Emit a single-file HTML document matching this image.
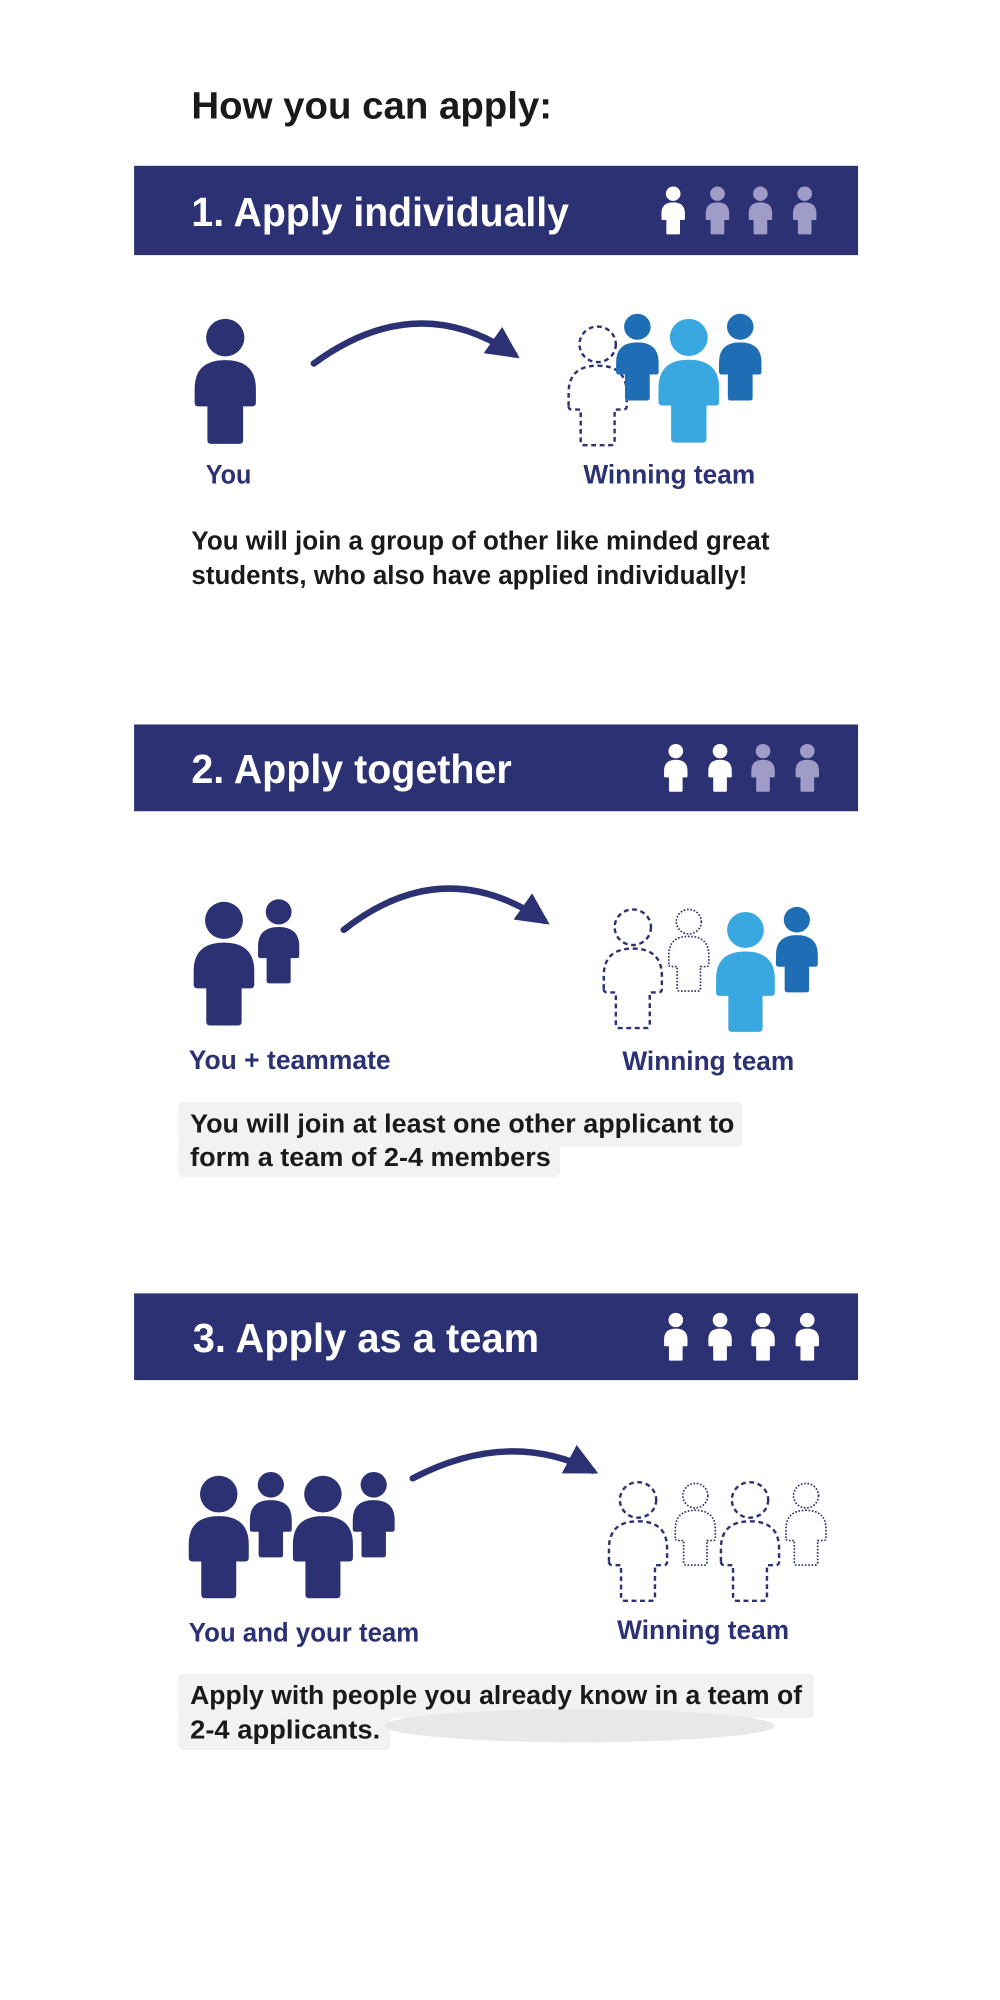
<!DOCTYPE html>
<html><head><meta charset="utf-8"><style>
html,body{margin:0;padding:0;background:#fff;}
svg{display:block;}
text{font-family:"Liberation Sans",sans-serif;font-weight:bold;}
</style></head><body>
<svg width="1000" height="2000" viewBox="0 0 768 1568" preserveAspectRatio="none" xmlns="http://www.w3.org/2000/svg">
<defs>
<symbol id="p" viewBox="0 0 48 100" overflow="visible">
<circle cx="24" cy="15" r="15"/>
<path d="M0,67 L0,56 Q0,33 24,33 Q48,33 48,56 L48,67 Q48,70 45,70 L38,70 L38,97 Q38,100 35,100 L13,100 Q10,100 10,97 L10,70 L3,70 Q0,70 0,67 Z"/>
</symbol>
<marker id="ah" viewBox="0 0 10 10" refX="8" refY="5" markerWidth="5" markerHeight="5" orient="auto"><path d="M0,0 L10,5 L0,10 Z" fill="#2b3173"/></marker>
</defs>
<rect width="768" height="1568" fill="#fff"/>
<text x="147" y="93" font-size="30" fill="#1a1a1a" textLength="277" lengthAdjust="spacingAndGlyphs">How you can apply:</text>

<!-- Section 1 -->
<rect x="103" y="130" width="556" height="70" fill="#2b3173"/>
<text x="147" y="177" font-size="32" fill="#fff" textLength="290" lengthAdjust="spacingAndGlyphs">1. Apply individually</text>
<use href="#p" x="508" y="146" width="18" height="38" fill="#fff"/>
<use href="#p" x="542" y="146" width="18" height="38" fill="#a09cc8"/>
<use href="#p" x="575" y="146" width="18" height="38" fill="#a09cc8"/>
<use href="#p" x="609" y="146" width="18" height="38" fill="#a09cc8"/>

<use href="#p" x="149" y="250" width="48" height="98" fill="#2b3173"/>
<path d="M241,285 Q320,226 395,278" stroke="#2b3173" stroke-width="5" fill="none" stroke-linecap="round" marker-end="url(#ah)"/>
<use href="#p" x="434" y="256" width="50" height="93" fill="none" stroke="#2b3173" stroke-width="2" stroke-dasharray="4,3"/>
<use href="#p" x="472" y="246" width="35" height="68" fill="#1f6eb5"/>
<use href="#p" x="551" y="246" width="35" height="68" fill="#1f6eb5"/>
<use href="#p" x="505" y="250" width="48" height="97" fill="#3aa8e0"/>
<text x="158" y="379" font-size="21" fill="#2b3173" textLength="35" lengthAdjust="spacingAndGlyphs">You</text>
<text x="448" y="379" font-size="21" fill="#2b3173" textLength="132" lengthAdjust="spacingAndGlyphs">Winning team</text>
<text x="147" y="431" font-size="20" fill="#1a1a1a" textLength="444" lengthAdjust="spacingAndGlyphs">You will join a group of other like minded great</text>
<text x="147" y="458" font-size="20" fill="#1a1a1a" textLength="427" lengthAdjust="spacingAndGlyphs">students, who also have applied individually!</text>

<!-- Section 2 -->
<rect x="103" y="568" width="556" height="68" fill="#2b3173"/>
<text x="147" y="614" font-size="32" fill="#fff" textLength="246" lengthAdjust="spacingAndGlyphs">2. Apply together</text>
<use href="#p" x="510" y="583" width="18" height="38" fill="#fff"/>
<use href="#p" x="544" y="583" width="18" height="38" fill="#fff"/>
<use href="#p" x="577" y="583" width="18" height="38" fill="#a09cc8"/>
<use href="#p" x="611" y="583" width="18" height="38" fill="#a09cc8"/>

<use href="#p" x="148" y="707" width="48" height="97" fill="#2b3173"/>
<use href="#p" x="197" y="705" width="34" height="66" fill="#2b3173"/>
<path d="M264,729 Q340,668 418,722" stroke="#2b3173" stroke-width="5" fill="none" stroke-linecap="round" marker-end="url(#ah)"/>
<use href="#p" x="461" y="713" width="50" height="93" fill="none" stroke="#2b3173" stroke-width="2" stroke-dasharray="4,3"/>
<use href="#p" x="511" y="713" width="36" height="64" fill="none" stroke="#2b3173" stroke-width="2" stroke-dasharray="2,2"/>
<use href="#p" x="548" y="715" width="49" height="94" fill="#3aa8e0"/>
<use href="#p" x="595" y="711" width="34" height="67" fill="#1f6eb5"/>
<text x="145" y="838" font-size="21" fill="#2b3173" textLength="155" lengthAdjust="spacingAndGlyphs">You + teammate</text>
<text x="478" y="839" font-size="21" fill="#2b3173" textLength="132" lengthAdjust="spacingAndGlyphs">Winning team</text>
<rect x="137" y="864" width="433" height="35" rx="4" fill="#f2f2f2"/>
<rect x="137" y="895" width="293" height="28" rx="4" fill="#f2f2f2"/>
<text x="146" y="888" font-size="20" fill="#1a1a1a" textLength="418" lengthAdjust="spacingAndGlyphs">You will join at least one other applicant to</text>
<text x="146" y="914" font-size="20" fill="#1a1a1a" textLength="277" lengthAdjust="spacingAndGlyphs">form a team of 2-4 members</text>

<!-- Section 3 -->
<rect x="103" y="1014" width="556" height="68" fill="#2b3173"/>
<text x="148" y="1060" font-size="32" fill="#fff" textLength="266" lengthAdjust="spacingAndGlyphs">3. Apply as a team</text>
<use href="#p" x="510" y="1029" width="18" height="38" fill="#fff"/>
<use href="#p" x="544" y="1029" width="18" height="38" fill="#fff"/>
<use href="#p" x="577" y="1029" width="18" height="38" fill="#fff"/>
<use href="#p" x="611" y="1029" width="18" height="38" fill="#fff"/>

<use href="#p" x="144" y="1157" width="48" height="96" fill="#2b3173"/>
<use href="#p" x="191" y="1154" width="34" height="67" fill="#2b3173"/>
<use href="#p" x="224" y="1157" width="48" height="96" fill="#2b3173"/>
<use href="#p" x="270" y="1154" width="34" height="67" fill="#2b3173"/>
<path d="M317,1159 Q390,1120 455,1153" stroke="#2b3173" stroke-width="5" fill="none" stroke-linecap="round" marker-end="url(#ah)"/>
<use href="#p" x="465" y="1162" width="50" height="93" fill="none" stroke="#2b3173" stroke-width="2" stroke-dasharray="4,3"/>
<use href="#p" x="516" y="1163" width="36" height="64" fill="none" stroke="#2b3173" stroke-width="2" stroke-dasharray="2,2"/>
<use href="#p" x="551" y="1162" width="50" height="93" fill="none" stroke="#2b3173" stroke-width="2" stroke-dasharray="4,3"/>
<use href="#p" x="601" y="1163" width="36" height="64" fill="none" stroke="#2b3173" stroke-width="2" stroke-dasharray="2,2"/>
<text x="145" y="1287" font-size="21" fill="#2b3173" textLength="177" lengthAdjust="spacingAndGlyphs">You and your team</text>
<text x="474" y="1285" font-size="21" fill="#2b3173" textLength="132" lengthAdjust="spacingAndGlyphs">Winning team</text>
<rect x="137" y="1312" width="488" height="35" rx="4" fill="#f2f2f2"/>
<rect x="137" y="1343" width="163" height="29" rx="4" fill="#f2f2f2"/>
<ellipse cx="445" cy="1353" rx="150" ry="13" fill="#e8e8e8"/>
<text x="146" y="1336" font-size="20" fill="#1a1a1a" textLength="470" lengthAdjust="spacingAndGlyphs">Apply with people you already know in a team of</text>
<text x="146" y="1363" font-size="20" fill="#1a1a1a" textLength="146" lengthAdjust="spacingAndGlyphs">2-4 applicants.</text>
</svg>
</body></html>
